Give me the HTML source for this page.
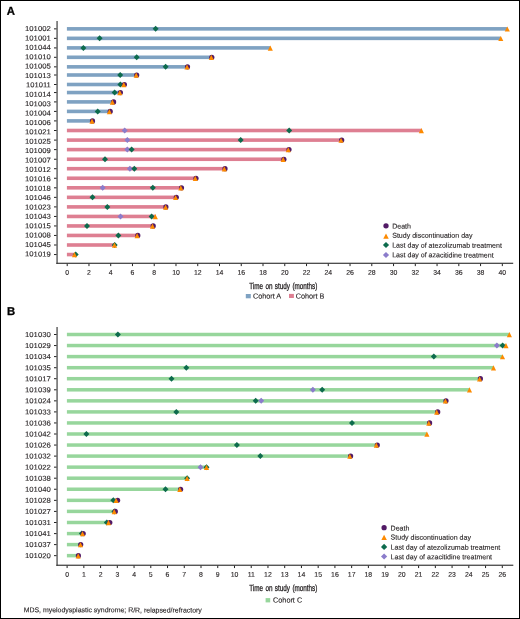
<!DOCTYPE html>
<html><head><meta charset="utf-8"><style>
html,body{margin:0;padding:0;background:#fff;}
body{width:520px;height:619px;overflow:hidden;font-family:"Liberation Sans", sans-serif;}
svg{display:block;will-change:transform;}
svg text{stroke:#231f20;stroke-width:0.12px;}
</style></head><body>
<svg width="520" height="619" viewBox="0 0 520 619" font-family='"Liberation Sans", sans-serif' fill="#231f20">
<rect x="0" y="0" width="520" height="619" fill="#fff"/>
<text x="6.7" y="14.8" transform="rotate(0.1 6.7 14.8)" font-size="11.3" font-weight="bold" fill="#000" style="stroke:#000;stroke-width:0.3px">A</text>
<text x="6.9" y="314.9" transform="rotate(0.1 6.9 314.9)" font-size="11.3" font-weight="bold" fill="#000" style="stroke:#000;stroke-width:0.3px">B</text>
<text x="50.8" y="31.05" transform="rotate(0.1 50.8 31.05)" text-anchor="end" font-size="7.1" textLength="25.8" lengthAdjust="spacingAndGlyphs">101002</text>
<rect x="54.0" y="28.35" width="2.85" height="1" fill="#222"/>
<text x="50.8" y="40.44" transform="rotate(0.1 50.8 40.44)" text-anchor="end" font-size="7.1" textLength="25.8" lengthAdjust="spacingAndGlyphs">101001</text>
<rect x="54.0" y="37.85" width="2.85" height="1" fill="#222"/>
<text x="50.8" y="49.83" transform="rotate(0.1 50.8 49.83)" text-anchor="end" font-size="7.1" textLength="25.8" lengthAdjust="spacingAndGlyphs">101044</text>
<rect x="54.0" y="47.40" width="2.85" height="1" fill="#222"/>
<text x="50.8" y="59.22" transform="rotate(0.1 50.8 59.22)" text-anchor="end" font-size="7.1" textLength="25.8" lengthAdjust="spacingAndGlyphs">101010</text>
<rect x="54.0" y="56.80" width="2.85" height="1" fill="#222"/>
<text x="50.8" y="68.61" transform="rotate(0.1 50.8 68.61)" text-anchor="end" font-size="7.1" textLength="25.8" lengthAdjust="spacingAndGlyphs">101005</text>
<rect x="54.0" y="66.35" width="2.85" height="1" fill="#222"/>
<text x="50.8" y="78.00" transform="rotate(0.1 50.8 78.00)" text-anchor="end" font-size="7.1" textLength="25.8" lengthAdjust="spacingAndGlyphs">101013</text>
<rect x="54.0" y="74.50" width="2.85" height="1" fill="#222"/>
<text x="50.8" y="87.39" transform="rotate(0.1 50.8 87.39)" text-anchor="end" font-size="7.1" textLength="24.7" lengthAdjust="spacingAndGlyphs">101011</text>
<rect x="54.0" y="84.00" width="2.85" height="1" fill="#222"/>
<text x="50.8" y="96.78" transform="rotate(0.1 50.8 96.78)" text-anchor="end" font-size="7.1" textLength="25.8" lengthAdjust="spacingAndGlyphs">101014</text>
<rect x="54.0" y="92.05" width="2.85" height="1" fill="#222"/>
<text x="50.8" y="106.17" transform="rotate(0.1 50.8 106.17)" text-anchor="end" font-size="7.1" textLength="25.8" lengthAdjust="spacingAndGlyphs">101003</text>
<rect x="54.0" y="101.40" width="2.85" height="1" fill="#222"/>
<text x="50.8" y="115.56" transform="rotate(0.1 50.8 115.56)" text-anchor="end" font-size="7.1" textLength="25.8" lengthAdjust="spacingAndGlyphs">101004</text>
<rect x="54.0" y="110.90" width="2.85" height="1" fill="#222"/>
<text x="50.8" y="124.95" transform="rotate(0.1 50.8 124.95)" text-anchor="end" font-size="7.1" textLength="25.8" lengthAdjust="spacingAndGlyphs">101006</text>
<rect x="54.0" y="120.40" width="2.85" height="1" fill="#222"/>
<text x="50.8" y="134.34" transform="rotate(0.1 50.8 134.34)" text-anchor="end" font-size="7.1" textLength="25.8" lengthAdjust="spacingAndGlyphs">101021</text>
<rect x="54.0" y="130.00" width="2.85" height="1" fill="#222"/>
<text x="50.8" y="143.73" transform="rotate(0.1 50.8 143.73)" text-anchor="end" font-size="7.1" textLength="25.8" lengthAdjust="spacingAndGlyphs">101025</text>
<rect x="54.0" y="139.60" width="2.85" height="1" fill="#222"/>
<text x="50.8" y="153.12" transform="rotate(0.1 50.8 153.12)" text-anchor="end" font-size="7.1" textLength="25.8" lengthAdjust="spacingAndGlyphs">101009</text>
<rect x="54.0" y="149.10" width="2.85" height="1" fill="#222"/>
<text x="50.8" y="162.51" transform="rotate(0.1 50.8 162.51)" text-anchor="end" font-size="7.1" textLength="25.8" lengthAdjust="spacingAndGlyphs">101007</text>
<rect x="54.0" y="158.75" width="2.85" height="1" fill="#222"/>
<text x="50.8" y="171.90" transform="rotate(0.1 50.8 171.90)" text-anchor="end" font-size="7.1" textLength="25.8" lengthAdjust="spacingAndGlyphs">101012</text>
<rect x="54.0" y="168.20" width="2.85" height="1" fill="#222"/>
<text x="50.8" y="181.29" transform="rotate(0.1 50.8 181.29)" text-anchor="end" font-size="7.1" textLength="25.8" lengthAdjust="spacingAndGlyphs">101016</text>
<rect x="54.0" y="177.75" width="2.85" height="1" fill="#222"/>
<text x="50.8" y="190.68" transform="rotate(0.1 50.8 190.68)" text-anchor="end" font-size="7.1" textLength="25.8" lengthAdjust="spacingAndGlyphs">101018</text>
<rect x="54.0" y="187.30" width="2.85" height="1" fill="#222"/>
<text x="50.8" y="200.07" transform="rotate(0.1 50.8 200.07)" text-anchor="end" font-size="7.1" textLength="25.8" lengthAdjust="spacingAndGlyphs">101046</text>
<rect x="54.0" y="196.85" width="2.85" height="1" fill="#222"/>
<text x="50.8" y="209.46" transform="rotate(0.1 50.8 209.46)" text-anchor="end" font-size="7.1" textLength="25.8" lengthAdjust="spacingAndGlyphs">101023</text>
<rect x="54.0" y="206.40" width="2.85" height="1" fill="#222"/>
<text x="50.8" y="218.85" transform="rotate(0.1 50.8 218.85)" text-anchor="end" font-size="7.1" textLength="25.8" lengthAdjust="spacingAndGlyphs">101043</text>
<rect x="54.0" y="215.95" width="2.85" height="1" fill="#222"/>
<text x="50.8" y="228.24" transform="rotate(0.1 50.8 228.24)" text-anchor="end" font-size="7.1" textLength="25.8" lengthAdjust="spacingAndGlyphs">101015</text>
<rect x="54.0" y="225.45" width="2.85" height="1" fill="#222"/>
<text x="50.8" y="237.63" transform="rotate(0.1 50.8 237.63)" text-anchor="end" font-size="7.1" textLength="25.8" lengthAdjust="spacingAndGlyphs">101008</text>
<rect x="54.0" y="234.95" width="2.85" height="1" fill="#222"/>
<text x="50.8" y="247.02" transform="rotate(0.1 50.8 247.02)" text-anchor="end" font-size="7.1" textLength="25.8" lengthAdjust="spacingAndGlyphs">101045</text>
<rect x="54.0" y="244.50" width="2.85" height="1" fill="#222"/>
<text x="50.8" y="256.41" transform="rotate(0.1 50.8 256.41)" text-anchor="end" font-size="7.1" textLength="25.8" lengthAdjust="spacingAndGlyphs">101019</text>
<rect x="54.0" y="254.05" width="2.85" height="1" fill="#222"/>
<rect x="56.35" y="21.0" width="1.45" height="243.00" fill="#606060"/>
<rect x="56.35" y="262.70" width="456.85" height="1.2" fill="#3a3a3a"/>
<rect x="66.70" y="263.70" width="1" height="2.4" fill="#222"/>
<text x="67.20" y="274.70" transform="rotate(0.1 67.20 274.70)" text-anchor="middle" font-size="6.9">0</text>
<rect x="88.46" y="263.70" width="1" height="2.4" fill="#222"/>
<text x="88.96" y="274.70" transform="rotate(0.1 88.96 274.70)" text-anchor="middle" font-size="6.9">2</text>
<rect x="110.21" y="263.70" width="1" height="2.4" fill="#222"/>
<text x="110.71" y="274.70" transform="rotate(0.1 110.71 274.70)" text-anchor="middle" font-size="6.9">4</text>
<rect x="131.97" y="263.70" width="1" height="2.4" fill="#222"/>
<text x="132.47" y="274.70" transform="rotate(0.1 132.47 274.70)" text-anchor="middle" font-size="6.9">6</text>
<rect x="153.72" y="263.70" width="1" height="2.4" fill="#222"/>
<text x="154.22" y="274.70" transform="rotate(0.1 154.22 274.70)" text-anchor="middle" font-size="6.9">8</text>
<rect x="175.48" y="263.70" width="1" height="2.4" fill="#222"/>
<text x="175.98" y="274.70" transform="rotate(0.1 175.98 274.70)" text-anchor="middle" font-size="6.9">10</text>
<rect x="197.24" y="263.70" width="1" height="2.4" fill="#222"/>
<text x="197.74" y="274.70" transform="rotate(0.1 197.74 274.70)" text-anchor="middle" font-size="6.9">12</text>
<rect x="218.99" y="263.70" width="1" height="2.4" fill="#222"/>
<text x="219.49" y="274.70" transform="rotate(0.1 219.49 274.70)" text-anchor="middle" font-size="6.9">14</text>
<rect x="240.75" y="263.70" width="1" height="2.4" fill="#222"/>
<text x="241.25" y="274.70" transform="rotate(0.1 241.25 274.70)" text-anchor="middle" font-size="6.9">16</text>
<rect x="262.50" y="263.70" width="1" height="2.4" fill="#222"/>
<text x="263.00" y="274.70" transform="rotate(0.1 263.00 274.70)" text-anchor="middle" font-size="6.9">18</text>
<rect x="284.26" y="263.70" width="1" height="2.4" fill="#222"/>
<text x="284.76" y="274.70" transform="rotate(0.1 284.76 274.70)" text-anchor="middle" font-size="6.9">20</text>
<rect x="306.02" y="263.70" width="1" height="2.4" fill="#222"/>
<text x="306.52" y="274.70" transform="rotate(0.1 306.52 274.70)" text-anchor="middle" font-size="6.9">22</text>
<rect x="327.77" y="263.70" width="1" height="2.4" fill="#222"/>
<text x="328.27" y="274.70" transform="rotate(0.1 328.27 274.70)" text-anchor="middle" font-size="6.9">24</text>
<rect x="349.53" y="263.70" width="1" height="2.4" fill="#222"/>
<text x="350.03" y="274.70" transform="rotate(0.1 350.03 274.70)" text-anchor="middle" font-size="6.9">26</text>
<rect x="371.28" y="263.70" width="1" height="2.4" fill="#222"/>
<text x="371.78" y="274.70" transform="rotate(0.1 371.78 274.70)" text-anchor="middle" font-size="6.9">28</text>
<rect x="393.04" y="263.70" width="1" height="2.4" fill="#222"/>
<text x="393.54" y="274.70" transform="rotate(0.1 393.54 274.70)" text-anchor="middle" font-size="6.9">30</text>
<rect x="414.80" y="263.70" width="1" height="2.4" fill="#222"/>
<text x="415.30" y="274.70" transform="rotate(0.1 415.30 274.70)" text-anchor="middle" font-size="6.9">32</text>
<rect x="436.55" y="263.70" width="1" height="2.4" fill="#222"/>
<text x="437.05" y="274.70" transform="rotate(0.1 437.05 274.70)" text-anchor="middle" font-size="6.9">34</text>
<rect x="458.31" y="263.70" width="1" height="2.4" fill="#222"/>
<text x="458.81" y="274.70" transform="rotate(0.1 458.81 274.70)" text-anchor="middle" font-size="6.9">36</text>
<rect x="480.06" y="263.70" width="1" height="2.4" fill="#222"/>
<text x="480.56" y="274.70" transform="rotate(0.1 480.56 274.70)" text-anchor="middle" font-size="6.9">38</text>
<rect x="501.82" y="263.70" width="1" height="2.4" fill="#222"/>
<text x="502.32" y="274.70" transform="rotate(0.1 502.32 274.70)" text-anchor="middle" font-size="6.9">40</text>
<rect x="66.9" y="27.05" width="440.40" height="3.6" fill="#7fa2c2"/>
<rect x="66.9" y="36.55" width="433.90" height="3.6" fill="#7fa2c2"/>
<rect x="66.9" y="46.10" width="203.40" height="3.6" fill="#7fa2c2"/>
<rect x="66.9" y="55.50" width="144.40" height="3.6" fill="#7fa2c2"/>
<rect x="66.9" y="65.05" width="120.30" height="3.6" fill="#7fa2c2"/>
<rect x="66.9" y="73.20" width="69.40" height="3.6" fill="#7fa2c2"/>
<rect x="66.9" y="82.70" width="57.10" height="3.6" fill="#7fa2c2"/>
<rect x="66.9" y="90.75" width="53.10" height="3.6" fill="#7fa2c2"/>
<rect x="66.9" y="100.10" width="45.40" height="3.6" fill="#7fa2c2"/>
<rect x="66.9" y="109.60" width="42.50" height="3.6" fill="#7fa2c2"/>
<rect x="66.9" y="119.10" width="25.20" height="3.6" fill="#7fa2c2"/>
<rect x="66.9" y="128.70" width="354.50" height="3.6" fill="#de7f92"/>
<rect x="66.9" y="138.30" width="274.30" height="3.6" fill="#de7f92"/>
<rect x="66.9" y="147.80" width="221.60" height="3.6" fill="#de7f92"/>
<rect x="66.9" y="157.45" width="216.50" height="3.6" fill="#de7f92"/>
<rect x="66.9" y="166.90" width="157.60" height="3.6" fill="#de7f92"/>
<rect x="66.9" y="176.45" width="128.40" height="3.6" fill="#de7f92"/>
<rect x="66.9" y="186.00" width="113.90" height="3.6" fill="#de7f92"/>
<rect x="66.9" y="195.55" width="108.70" height="3.6" fill="#de7f92"/>
<rect x="66.9" y="205.10" width="98.70" height="3.6" fill="#de7f92"/>
<rect x="66.9" y="214.65" width="88.40" height="3.6" fill="#de7f92"/>
<rect x="66.9" y="224.15" width="85.60" height="3.6" fill="#de7f92"/>
<rect x="66.9" y="233.65" width="70.20" height="3.6" fill="#de7f92"/>
<rect x="66.9" y="243.20" width="47.60" height="3.6" fill="#de7f92"/>
<rect x="66.9" y="252.75" width="7.60" height="3.6" fill="#de7f92"/>
<path d="M155.60 25.85L158.60 28.85L155.60 31.85L152.60 28.85Z" fill="#0d6b4d"/>
<path d="M507.30 26.40L509.85 31.60L504.75 31.60Z" fill="#fd8a00"/>
<path d="M99.60 35.35L102.60 38.35L99.60 41.35L96.60 38.35Z" fill="#0d6b4d"/>
<path d="M500.80 35.90L503.35 41.10L498.25 41.10Z" fill="#fd8a00"/>
<path d="M83.40 44.90L86.40 47.90L83.40 50.90L80.40 47.90Z" fill="#0d6b4d"/>
<path d="M270.30 45.45L272.85 50.65L267.75 50.65Z" fill="#fd8a00"/>
<path d="M136.70 54.30L139.70 57.30L136.70 60.30L133.70 57.30Z" fill="#0d6b4d"/>
<circle cx="211.80" cy="57.30" r="2.6" fill="#521a66"/>
<path d="M211.30 54.85L213.85 60.05L208.75 60.05Z" fill="#fd8a00"/>
<path d="M165.60 63.85L168.60 66.85L165.60 69.85L162.60 66.85Z" fill="#0d6b4d"/>
<circle cx="187.50" cy="66.85" r="2.6" fill="#521a66"/>
<path d="M187.00 64.40L189.55 69.60L184.45 69.60Z" fill="#fd8a00"/>
<path d="M120.20 72.00L123.20 75.00L120.20 78.00L117.20 75.00Z" fill="#0d6b4d"/>
<circle cx="136.70" cy="75.00" r="2.6" fill="#521a66"/>
<path d="M136.20 72.55L138.75 77.75L133.65 77.75Z" fill="#fd8a00"/>
<path d="M120.40 81.50L123.40 84.50L120.40 87.50L117.40 84.50Z" fill="#0d6b4d"/>
<circle cx="124.40" cy="84.50" r="2.6" fill="#521a66"/>
<path d="M123.80 82.05L126.35 87.25L121.25 87.25Z" fill="#fd8a00"/>
<path d="M114.60 89.55L117.60 92.55L114.60 95.55L111.60 92.55Z" fill="#0d6b4d"/>
<circle cx="120.40" cy="92.55" r="2.6" fill="#521a66"/>
<path d="M119.80 90.10L122.35 95.30L117.25 95.30Z" fill="#fd8a00"/>
<circle cx="113.60" cy="101.90" r="2.6" fill="#521a66"/>
<path d="M112.40 99.45L114.95 104.65L109.85 104.65Z" fill="#fd8a00"/>
<path d="M97.70 108.40L100.70 111.40L97.70 114.40L94.70 111.40Z" fill="#0d6b4d"/>
<circle cx="110.20" cy="111.40" r="2.6" fill="#521a66"/>
<path d="M109.40 108.95L111.95 114.15L106.85 114.15Z" fill="#fd8a00"/>
<circle cx="92.50" cy="120.90" r="2.6" fill="#521a66"/>
<path d="M92.00 118.45L94.55 123.65L89.45 123.65Z" fill="#fd8a00"/>
<path d="M124.70 127.50L127.70 130.50L124.70 133.50L121.70 130.50Z" fill="#8b7ccb"/>
<path d="M289.20 127.50L292.20 130.50L289.20 133.50L286.20 130.50Z" fill="#0d6b4d"/>
<path d="M421.40 128.05L423.95 133.25L418.85 133.25Z" fill="#fd8a00"/>
<path d="M127.30 137.10L130.30 140.10L127.30 143.10L124.30 140.10Z" fill="#8b7ccb"/>
<path d="M240.70 137.10L243.70 140.10L240.70 143.10L237.70 140.10Z" fill="#0d6b4d"/>
<circle cx="341.70" cy="140.10" r="2.6" fill="#521a66"/>
<path d="M341.00 137.65L343.55 142.85L338.45 142.85Z" fill="#fd8a00"/>
<path d="M127.30 146.60L130.30 149.60L127.30 152.60L124.30 149.60Z" fill="#8b7ccb"/>
<path d="M131.60 146.60L134.60 149.60L131.60 152.60L128.60 149.60Z" fill="#0d6b4d"/>
<circle cx="289.00" cy="149.60" r="2.6" fill="#521a66"/>
<path d="M288.30 147.15L290.85 152.35L285.75 152.35Z" fill="#fd8a00"/>
<path d="M105.00 156.25L108.00 159.25L105.00 162.25L102.00 159.25Z" fill="#0d6b4d"/>
<circle cx="283.90" cy="159.25" r="2.6" fill="#521a66"/>
<path d="M283.20 156.80L285.75 162.00L280.65 162.00Z" fill="#fd8a00"/>
<path d="M129.90 165.70L132.90 168.70L129.90 171.70L126.90 168.70Z" fill="#8b7ccb"/>
<path d="M134.30 165.70L137.30 168.70L134.30 171.70L131.30 168.70Z" fill="#0d6b4d"/>
<circle cx="225.00" cy="168.70" r="2.6" fill="#521a66"/>
<path d="M224.30 166.25L226.85 171.45L221.75 171.45Z" fill="#fd8a00"/>
<circle cx="196.00" cy="178.25" r="2.6" fill="#521a66"/>
<path d="M195.30 175.80L197.85 181.00L192.75 181.00Z" fill="#fd8a00"/>
<path d="M102.70 184.80L105.70 187.80L102.70 190.80L99.70 187.80Z" fill="#8b7ccb"/>
<path d="M152.80 184.80L155.80 187.80L152.80 190.80L149.80 187.80Z" fill="#0d6b4d"/>
<circle cx="181.50" cy="187.80" r="2.6" fill="#521a66"/>
<path d="M180.80 185.35L183.35 190.55L178.25 190.55Z" fill="#fd8a00"/>
<path d="M92.50 194.35L95.50 197.35L92.50 200.35L89.50 197.35Z" fill="#0d6b4d"/>
<circle cx="176.30" cy="197.35" r="2.6" fill="#521a66"/>
<path d="M175.60 194.90L178.15 200.10L173.05 200.10Z" fill="#fd8a00"/>
<path d="M107.30 203.90L110.30 206.90L107.30 209.90L104.30 206.90Z" fill="#0d6b4d"/>
<circle cx="165.90" cy="206.90" r="2.6" fill="#521a66"/>
<path d="M165.60 204.45L168.15 209.65L163.05 209.65Z" fill="#fd8a00"/>
<path d="M120.50 213.45L123.50 216.45L120.50 219.45L117.50 216.45Z" fill="#8b7ccb"/>
<path d="M151.60 213.45L154.60 216.45L151.60 219.45L148.60 216.45Z" fill="#0d6b4d"/>
<path d="M155.30 214.00L157.85 219.20L152.75 219.20Z" fill="#fd8a00"/>
<path d="M87.00 222.95L90.00 225.95L87.00 228.95L84.00 225.95Z" fill="#0d6b4d"/>
<circle cx="153.20" cy="225.95" r="2.6" fill="#521a66"/>
<path d="M152.50 223.50L155.05 228.70L149.95 228.70Z" fill="#fd8a00"/>
<path d="M118.40 232.45L121.40 235.45L118.40 238.45L115.40 235.45Z" fill="#0d6b4d"/>
<circle cx="137.80" cy="235.45" r="2.6" fill="#521a66"/>
<path d="M137.10 233.00L139.65 238.20L134.55 238.20Z" fill="#fd8a00"/>
<path d="M114.70 242.00L117.70 245.00L114.70 248.00L111.70 245.00Z" fill="#0d6b4d"/>
<path d="M114.50 242.55L117.05 247.75L111.95 247.75Z" fill="#fd8a00"/>
<path d="M75.70 251.55L78.70 254.55L75.70 257.55L72.70 254.55Z" fill="#0d6b4d"/>
<path d="M74.50 252.10L77.05 257.30L71.95 257.30Z" fill="#fd8a00"/>
<circle cx="386.00" cy="225.80" r="2.65" fill="#521a66"/>
<path d="M386.00 233.50L388.75 238.80L383.25 238.80Z" fill="#fd8a00"/>
<path d="M386.00 241.90L389.10 245.00L386.00 248.10L382.90 245.00Z" fill="#0d6b4d"/>
<path d="M386.00 251.90L389.10 255.00L386.00 258.10L382.90 255.00Z" fill="#8b7ccb"/>
<text x="392.2" y="228.50" transform="rotate(0.1 392.2 228.50)" font-size="7.05">Death</text>
<text x="392.2" y="237.70" transform="rotate(0.1 392.2 237.70)" font-size="7.05">Study discontinuation day</text>
<text x="392.2" y="247.60" transform="rotate(0.1 392.2 247.60)" font-size="7.05">Last day of atezolizumab treatment</text>
<text x="392.2" y="257.30" transform="rotate(0.1 392.2 257.30)" font-size="7.05">Last day of azacitidine treatment</text>
<text x="249.2" y="289.0" transform="rotate(0.1 249.2 289.0)" font-size="8.9" textLength="68.2" lengthAdjust="spacingAndGlyphs" style="stroke-width:0.3px;word-spacing:0.9px">Time on study (months)</text>
<rect x="245.8" y="294" width="5" height="4.3" fill="#7fa2c2"/>
<text x="252.9" y="298.4" transform="rotate(0.1 252.9 298.4)" font-size="7.25">Cohort A</text>
<rect x="289.0" y="293.9" width="4.9" height="4.1" fill="#de7f92"/>
<text x="295.7" y="298.4" transform="rotate(0.1 295.7 298.4)" font-size="7.25">Cohort B</text>
<text x="50.8" y="337.00" transform="rotate(0.1 50.8 337.00)" text-anchor="end" font-size="7.1" textLength="25.8" lengthAdjust="spacingAndGlyphs">101030</text>
<rect x="54.0" y="334.00" width="2.85" height="1" fill="#222"/>
<text x="50.8" y="348.05" transform="rotate(0.1 50.8 348.05)" text-anchor="end" font-size="7.1" textLength="25.8" lengthAdjust="spacingAndGlyphs">101029</text>
<rect x="54.0" y="345.05" width="2.85" height="1" fill="#222"/>
<text x="50.8" y="359.10" transform="rotate(0.1 50.8 359.10)" text-anchor="end" font-size="7.1" textLength="25.8" lengthAdjust="spacingAndGlyphs">101034</text>
<rect x="54.0" y="356.10" width="2.85" height="1" fill="#222"/>
<text x="50.8" y="370.20" transform="rotate(0.1 50.8 370.20)" text-anchor="end" font-size="7.1" textLength="25.8" lengthAdjust="spacingAndGlyphs">101035</text>
<rect x="54.0" y="367.20" width="2.85" height="1" fill="#222"/>
<text x="50.8" y="381.20" transform="rotate(0.1 50.8 381.20)" text-anchor="end" font-size="7.1" textLength="25.8" lengthAdjust="spacingAndGlyphs">101017</text>
<rect x="54.0" y="378.20" width="2.85" height="1" fill="#222"/>
<text x="50.8" y="392.30" transform="rotate(0.1 50.8 392.30)" text-anchor="end" font-size="7.1" textLength="25.8" lengthAdjust="spacingAndGlyphs">101039</text>
<rect x="54.0" y="389.30" width="2.85" height="1" fill="#222"/>
<text x="50.8" y="403.35" transform="rotate(0.1 50.8 403.35)" text-anchor="end" font-size="7.1" textLength="25.8" lengthAdjust="spacingAndGlyphs">101024</text>
<rect x="54.0" y="400.35" width="2.85" height="1" fill="#222"/>
<text x="50.8" y="414.40" transform="rotate(0.1 50.8 414.40)" text-anchor="end" font-size="7.1" textLength="25.8" lengthAdjust="spacingAndGlyphs">101033</text>
<rect x="54.0" y="411.40" width="2.85" height="1" fill="#222"/>
<text x="50.8" y="425.45" transform="rotate(0.1 50.8 425.45)" text-anchor="end" font-size="7.1" textLength="25.8" lengthAdjust="spacingAndGlyphs">101036</text>
<rect x="54.0" y="422.45" width="2.85" height="1" fill="#222"/>
<text x="50.8" y="436.50" transform="rotate(0.1 50.8 436.50)" text-anchor="end" font-size="7.1" textLength="25.8" lengthAdjust="spacingAndGlyphs">101042</text>
<rect x="54.0" y="433.50" width="2.85" height="1" fill="#222"/>
<text x="50.8" y="447.55" transform="rotate(0.1 50.8 447.55)" text-anchor="end" font-size="7.1" textLength="25.8" lengthAdjust="spacingAndGlyphs">101026</text>
<rect x="54.0" y="444.55" width="2.85" height="1" fill="#222"/>
<text x="50.8" y="458.60" transform="rotate(0.1 50.8 458.60)" text-anchor="end" font-size="7.1" textLength="25.8" lengthAdjust="spacingAndGlyphs">101032</text>
<rect x="54.0" y="455.60" width="2.85" height="1" fill="#222"/>
<text x="50.8" y="469.65" transform="rotate(0.1 50.8 469.65)" text-anchor="end" font-size="7.1" textLength="25.8" lengthAdjust="spacingAndGlyphs">101022</text>
<rect x="54.0" y="466.65" width="2.85" height="1" fill="#222"/>
<text x="50.8" y="480.70" transform="rotate(0.1 50.8 480.70)" text-anchor="end" font-size="7.1" textLength="25.8" lengthAdjust="spacingAndGlyphs">101038</text>
<rect x="54.0" y="477.70" width="2.85" height="1" fill="#222"/>
<text x="50.8" y="491.75" transform="rotate(0.1 50.8 491.75)" text-anchor="end" font-size="7.1" textLength="25.8" lengthAdjust="spacingAndGlyphs">101040</text>
<rect x="54.0" y="488.75" width="2.85" height="1" fill="#222"/>
<text x="50.8" y="502.85" transform="rotate(0.1 50.8 502.85)" text-anchor="end" font-size="7.1" textLength="25.8" lengthAdjust="spacingAndGlyphs">101028</text>
<rect x="54.0" y="499.85" width="2.85" height="1" fill="#222"/>
<text x="50.8" y="513.90" transform="rotate(0.1 50.8 513.90)" text-anchor="end" font-size="7.1" textLength="25.8" lengthAdjust="spacingAndGlyphs">101027</text>
<rect x="54.0" y="510.90" width="2.85" height="1" fill="#222"/>
<text x="50.8" y="525.00" transform="rotate(0.1 50.8 525.00)" text-anchor="end" font-size="7.1" textLength="25.8" lengthAdjust="spacingAndGlyphs">101031</text>
<rect x="54.0" y="522.00" width="2.85" height="1" fill="#222"/>
<text x="50.8" y="536.10" transform="rotate(0.1 50.8 536.10)" text-anchor="end" font-size="7.1" textLength="25.8" lengthAdjust="spacingAndGlyphs">101041</text>
<rect x="54.0" y="533.10" width="2.85" height="1" fill="#222"/>
<text x="50.8" y="547.10" transform="rotate(0.1 50.8 547.10)" text-anchor="end" font-size="7.1" textLength="25.8" lengthAdjust="spacingAndGlyphs">101037</text>
<rect x="54.0" y="544.10" width="2.85" height="1" fill="#222"/>
<text x="50.8" y="558.15" transform="rotate(0.1 50.8 558.15)" text-anchor="end" font-size="7.1" textLength="25.8" lengthAdjust="spacingAndGlyphs">101020</text>
<rect x="54.0" y="555.15" width="2.85" height="1" fill="#222"/>
<rect x="56.35" y="327.0" width="1.45" height="238.95" fill="#606060"/>
<rect x="56.35" y="564.65" width="456.95" height="1.2" fill="#3a3a3a"/>
<rect x="66.60" y="565.65" width="1" height="2.4" fill="#222"/>
<text x="67.10" y="576.65" transform="rotate(0.1 67.10 576.65)" text-anchor="middle" font-size="6.9">0</text>
<rect x="83.34" y="565.65" width="1" height="2.4" fill="#222"/>
<text x="83.84" y="576.65" transform="rotate(0.1 83.84 576.65)" text-anchor="middle" font-size="6.9">1</text>
<rect x="100.08" y="565.65" width="1" height="2.4" fill="#222"/>
<text x="100.58" y="576.65" transform="rotate(0.1 100.58 576.65)" text-anchor="middle" font-size="6.9">2</text>
<rect x="116.81" y="565.65" width="1" height="2.4" fill="#222"/>
<text x="117.31" y="576.65" transform="rotate(0.1 117.31 576.65)" text-anchor="middle" font-size="6.9">3</text>
<rect x="133.55" y="565.65" width="1" height="2.4" fill="#222"/>
<text x="134.05" y="576.65" transform="rotate(0.1 134.05 576.65)" text-anchor="middle" font-size="6.9">4</text>
<rect x="150.29" y="565.65" width="1" height="2.4" fill="#222"/>
<text x="150.79" y="576.65" transform="rotate(0.1 150.79 576.65)" text-anchor="middle" font-size="6.9">5</text>
<rect x="167.03" y="565.65" width="1" height="2.4" fill="#222"/>
<text x="167.53" y="576.65" transform="rotate(0.1 167.53 576.65)" text-anchor="middle" font-size="6.9">6</text>
<rect x="183.77" y="565.65" width="1" height="2.4" fill="#222"/>
<text x="184.27" y="576.65" transform="rotate(0.1 184.27 576.65)" text-anchor="middle" font-size="6.9">7</text>
<rect x="200.50" y="565.65" width="1" height="2.4" fill="#222"/>
<text x="201.00" y="576.65" transform="rotate(0.1 201.00 576.65)" text-anchor="middle" font-size="6.9">8</text>
<rect x="217.24" y="565.65" width="1" height="2.4" fill="#222"/>
<text x="217.74" y="576.65" transform="rotate(0.1 217.74 576.65)" text-anchor="middle" font-size="6.9">9</text>
<rect x="233.98" y="565.65" width="1" height="2.4" fill="#222"/>
<text x="234.48" y="576.65" transform="rotate(0.1 234.48 576.65)" text-anchor="middle" font-size="6.9">10</text>
<rect x="250.72" y="565.65" width="1" height="2.4" fill="#222"/>
<text x="251.22" y="576.65" transform="rotate(0.1 251.22 576.65)" text-anchor="middle" font-size="6.9">11</text>
<rect x="267.46" y="565.65" width="1" height="2.4" fill="#222"/>
<text x="267.96" y="576.65" transform="rotate(0.1 267.96 576.65)" text-anchor="middle" font-size="6.9">12</text>
<rect x="284.19" y="565.65" width="1" height="2.4" fill="#222"/>
<text x="284.69" y="576.65" transform="rotate(0.1 284.69 576.65)" text-anchor="middle" font-size="6.9">13</text>
<rect x="300.93" y="565.65" width="1" height="2.4" fill="#222"/>
<text x="301.43" y="576.65" transform="rotate(0.1 301.43 576.65)" text-anchor="middle" font-size="6.9">14</text>
<rect x="317.67" y="565.65" width="1" height="2.4" fill="#222"/>
<text x="318.17" y="576.65" transform="rotate(0.1 318.17 576.65)" text-anchor="middle" font-size="6.9">15</text>
<rect x="334.41" y="565.65" width="1" height="2.4" fill="#222"/>
<text x="334.91" y="576.65" transform="rotate(0.1 334.91 576.65)" text-anchor="middle" font-size="6.9">16</text>
<rect x="351.15" y="565.65" width="1" height="2.4" fill="#222"/>
<text x="351.65" y="576.65" transform="rotate(0.1 351.65 576.65)" text-anchor="middle" font-size="6.9">17</text>
<rect x="367.88" y="565.65" width="1" height="2.4" fill="#222"/>
<text x="368.38" y="576.65" transform="rotate(0.1 368.38 576.65)" text-anchor="middle" font-size="6.9">18</text>
<rect x="384.62" y="565.65" width="1" height="2.4" fill="#222"/>
<text x="385.12" y="576.65" transform="rotate(0.1 385.12 576.65)" text-anchor="middle" font-size="6.9">19</text>
<rect x="401.36" y="565.65" width="1" height="2.4" fill="#222"/>
<text x="401.86" y="576.65" transform="rotate(0.1 401.86 576.65)" text-anchor="middle" font-size="6.9">20</text>
<rect x="418.10" y="565.65" width="1" height="2.4" fill="#222"/>
<text x="418.60" y="576.65" transform="rotate(0.1 418.60 576.65)" text-anchor="middle" font-size="6.9">21</text>
<rect x="434.84" y="565.65" width="1" height="2.4" fill="#222"/>
<text x="435.34" y="576.65" transform="rotate(0.1 435.34 576.65)" text-anchor="middle" font-size="6.9">22</text>
<rect x="451.57" y="565.65" width="1" height="2.4" fill="#222"/>
<text x="452.07" y="576.65" transform="rotate(0.1 452.07 576.65)" text-anchor="middle" font-size="6.9">23</text>
<rect x="468.31" y="565.65" width="1" height="2.4" fill="#222"/>
<text x="468.81" y="576.65" transform="rotate(0.1 468.81 576.65)" text-anchor="middle" font-size="6.9">24</text>
<rect x="485.05" y="565.65" width="1" height="2.4" fill="#222"/>
<text x="485.55" y="576.65" transform="rotate(0.1 485.55 576.65)" text-anchor="middle" font-size="6.9">25</text>
<rect x="501.79" y="565.65" width="1" height="2.4" fill="#222"/>
<text x="502.29" y="576.65" transform="rotate(0.1 502.29 576.65)" text-anchor="middle" font-size="6.9">26</text>
<rect x="66.9" y="332.75" width="442.50" height="3.5" fill="#97d69c"/>
<rect x="66.9" y="343.80" width="439.10" height="3.5" fill="#97d69c"/>
<rect x="66.9" y="354.85" width="435.60" height="3.5" fill="#97d69c"/>
<rect x="66.9" y="365.95" width="426.60" height="3.5" fill="#97d69c"/>
<rect x="66.9" y="376.95" width="412.70" height="3.5" fill="#97d69c"/>
<rect x="66.9" y="388.05" width="402.60" height="3.5" fill="#97d69c"/>
<rect x="66.9" y="399.10" width="378.50" height="3.5" fill="#97d69c"/>
<rect x="66.9" y="410.15" width="369.80" height="3.5" fill="#97d69c"/>
<rect x="66.9" y="421.20" width="361.90" height="3.5" fill="#97d69c"/>
<rect x="66.9" y="432.25" width="360.00" height="3.5" fill="#97d69c"/>
<rect x="66.9" y="443.30" width="309.40" height="3.5" fill="#97d69c"/>
<rect x="66.9" y="454.35" width="282.90" height="3.5" fill="#97d69c"/>
<rect x="66.9" y="465.40" width="139.60" height="3.5" fill="#97d69c"/>
<rect x="66.9" y="476.45" width="120.20" height="3.5" fill="#97d69c"/>
<rect x="66.9" y="487.50" width="112.90" height="3.5" fill="#97d69c"/>
<rect x="66.9" y="498.60" width="49.10" height="3.5" fill="#97d69c"/>
<rect x="66.9" y="509.65" width="47.10" height="3.5" fill="#97d69c"/>
<rect x="66.9" y="520.75" width="41.40" height="3.5" fill="#97d69c"/>
<rect x="66.9" y="531.85" width="15.40" height="3.5" fill="#97d69c"/>
<rect x="66.9" y="542.85" width="13.40" height="3.5" fill="#97d69c"/>
<rect x="66.9" y="553.90" width="11.10" height="3.5" fill="#97d69c"/>
<path d="M117.90 331.50L120.90 334.50L117.90 337.50L114.90 334.50Z" fill="#0d6b4d"/>
<path d="M509.40 332.05L511.95 337.25L506.85 337.25Z" fill="#fd8a00"/>
<path d="M496.90 342.55L499.90 345.55L496.90 348.55L493.90 345.55Z" fill="#8b7ccb"/>
<path d="M502.60 342.55L505.60 345.55L502.60 348.55L499.60 345.55Z" fill="#0d6b4d"/>
<path d="M506.00 343.10L508.55 348.30L503.45 348.30Z" fill="#fd8a00"/>
<path d="M433.80 353.60L436.80 356.60L433.80 359.60L430.80 356.60Z" fill="#0d6b4d"/>
<path d="M502.50 354.15L505.05 359.35L499.95 359.35Z" fill="#fd8a00"/>
<path d="M186.30 364.70L189.30 367.70L186.30 370.70L183.30 367.70Z" fill="#0d6b4d"/>
<path d="M493.50 365.25L496.05 370.45L490.95 370.45Z" fill="#fd8a00"/>
<path d="M171.50 375.70L174.50 378.70L171.50 381.70L168.50 378.70Z" fill="#0d6b4d"/>
<circle cx="480.40" cy="378.70" r="2.6" fill="#521a66"/>
<path d="M479.60 376.25L482.15 381.45L477.05 381.45Z" fill="#fd8a00"/>
<path d="M312.90 386.80L315.90 389.80L312.90 392.80L309.90 389.80Z" fill="#8b7ccb"/>
<path d="M322.20 386.80L325.20 389.80L322.20 392.80L319.20 389.80Z" fill="#0d6b4d"/>
<path d="M469.50 387.35L472.05 392.55L466.95 392.55Z" fill="#fd8a00"/>
<path d="M261.20 397.85L264.20 400.85L261.20 403.85L258.20 400.85Z" fill="#8b7ccb"/>
<path d="M255.70 397.85L258.70 400.85L255.70 403.85L252.70 400.85Z" fill="#0d6b4d"/>
<circle cx="446.00" cy="400.85" r="2.6" fill="#521a66"/>
<path d="M445.40 398.40L447.95 403.60L442.85 403.60Z" fill="#fd8a00"/>
<path d="M176.30 408.90L179.30 411.90L176.30 414.90L173.30 411.90Z" fill="#0d6b4d"/>
<circle cx="437.70" cy="411.90" r="2.6" fill="#521a66"/>
<path d="M436.70 409.45L439.25 414.65L434.15 414.65Z" fill="#fd8a00"/>
<path d="M352.00 419.95L355.00 422.95L352.00 425.95L349.00 422.95Z" fill="#0d6b4d"/>
<circle cx="429.60" cy="422.95" r="2.6" fill="#521a66"/>
<path d="M428.80 420.50L431.35 425.70L426.25 425.70Z" fill="#fd8a00"/>
<path d="M86.40 431.00L89.40 434.00L86.40 437.00L83.40 434.00Z" fill="#0d6b4d"/>
<path d="M426.90 431.55L429.45 436.75L424.35 436.75Z" fill="#fd8a00"/>
<path d="M236.90 442.05L239.90 445.05L236.90 448.05L233.90 445.05Z" fill="#0d6b4d"/>
<circle cx="377.30" cy="445.05" r="2.6" fill="#521a66"/>
<path d="M376.30 442.60L378.85 447.80L373.75 447.80Z" fill="#fd8a00"/>
<path d="M260.30 453.10L263.30 456.10L260.30 459.10L257.30 456.10Z" fill="#0d6b4d"/>
<circle cx="350.60" cy="456.10" r="2.6" fill="#521a66"/>
<path d="M349.80 453.65L352.35 458.85L347.25 458.85Z" fill="#fd8a00"/>
<path d="M200.50 464.15L203.50 467.15L200.50 470.15L197.50 467.15Z" fill="#8b7ccb"/>
<path d="M206.50 464.15L209.50 467.15L206.50 470.15L203.50 467.15Z" fill="#0d6b4d"/>
<path d="M206.50 464.70L209.05 469.90L203.95 469.90Z" fill="#fd8a00"/>
<path d="M187.10 475.20L190.10 478.20L187.10 481.20L184.10 478.20Z" fill="#0d6b4d"/>
<path d="M187.10 475.75L189.65 480.95L184.55 480.95Z" fill="#fd8a00"/>
<path d="M165.50 486.25L168.50 489.25L165.50 492.25L162.50 489.25Z" fill="#0d6b4d"/>
<circle cx="180.60" cy="489.25" r="2.6" fill="#521a66"/>
<path d="M179.80 486.80L182.35 492.00L177.25 492.00Z" fill="#fd8a00"/>
<path d="M113.30 497.35L116.30 500.35L113.30 503.35L110.30 500.35Z" fill="#0d6b4d"/>
<circle cx="117.60" cy="500.35" r="2.6" fill="#521a66"/>
<path d="M116.10 497.90L118.65 503.10L113.55 503.10Z" fill="#fd8a00"/>
<path d="M114.40 508.40L117.40 511.40L114.40 514.40L111.40 511.40Z" fill="#0d6b4d"/>
<circle cx="115.30" cy="511.40" r="2.6" fill="#521a66"/>
<path d="M114.20 508.95L116.75 514.15L111.65 514.15Z" fill="#fd8a00"/>
<path d="M106.80 519.50L109.80 522.50L106.80 525.50L103.80 522.50Z" fill="#0d6b4d"/>
<circle cx="109.80" cy="522.50" r="2.6" fill="#521a66"/>
<path d="M108.50 520.05L111.05 525.25L105.95 525.25Z" fill="#fd8a00"/>
<path d="M81.80 530.60L84.80 533.60L81.80 536.60L78.80 533.60Z" fill="#0d6b4d"/>
<circle cx="83.20" cy="533.60" r="2.6" fill="#521a66"/>
<path d="M82.50 531.15L85.05 536.35L79.95 536.35Z" fill="#fd8a00"/>
<circle cx="80.70" cy="544.60" r="2.6" fill="#521a66"/>
<path d="M80.50 542.15L83.05 547.35L77.95 547.35Z" fill="#fd8a00"/>
<circle cx="78.40" cy="555.65" r="2.6" fill="#521a66"/>
<path d="M78.20 553.20L80.75 558.40L75.65 558.40Z" fill="#fd8a00"/>
<circle cx="384.10" cy="527.70" r="2.65" fill="#521a66"/>
<path d="M384.10 534.80L386.85 540.10L381.35 540.10Z" fill="#fd8a00"/>
<path d="M384.10 543.80L387.20 546.90L384.10 550.00L381.00 546.90Z" fill="#0d6b4d"/>
<path d="M384.10 553.40L387.20 556.50L384.10 559.60L381.00 556.50Z" fill="#8b7ccb"/>
<text x="390.6" y="530.50" transform="rotate(0.1 390.6 530.50)" font-size="7.05">Death</text>
<text x="390.6" y="539.60" transform="rotate(0.1 390.6 539.60)" font-size="7.05">Study discontinuation day</text>
<text x="390.6" y="549.60" transform="rotate(0.1 390.6 549.60)" font-size="7.05">Last day of atezolizumab treatment</text>
<text x="390.6" y="559.20" transform="rotate(0.1 390.6 559.20)" font-size="7.05">Last day of azacitidine treatment</text>
<text x="249.2" y="591.0" transform="rotate(0.1 249.2 591.0)" font-size="8.9" textLength="68.2" lengthAdjust="spacingAndGlyphs" style="stroke-width:0.3px;word-spacing:0.9px">Time on study (months)</text>
<rect x="265.6" y="598.1" width="4.6" height="4.3" fill="#97d69c"/>
<text x="273.0" y="602.5" transform="rotate(0.1 273.0 602.5)" font-size="7.3">Cohort C</text>
<text x="23.7" y="612.2" transform="rotate(0.1 23.7 612.2)" font-size="6.95">MDS, myelodysplastic syndrome; R/R, relapsed/refractory</text>
<rect x="0.5" y="0.5" width="519" height="618" fill="none" stroke="#000" stroke-width="1"/>
</svg>
</body></html>
